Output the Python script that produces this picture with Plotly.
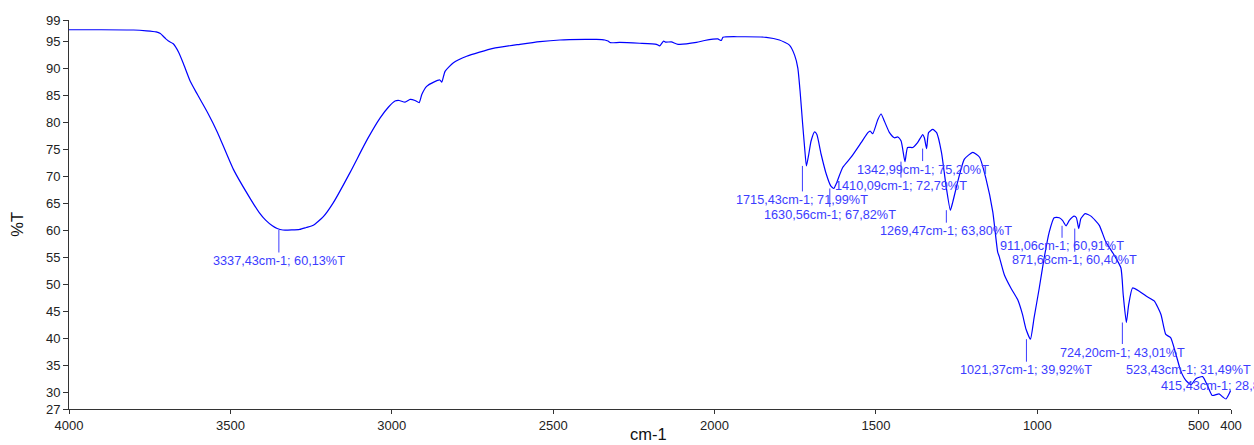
import plotly.graph_objects as go

# FTIR spectrum: wavenumber (cm-1) and transmittance (%T)
wavenumber = [
    4000, 3900, 3800, 3760, 3730, 3717, 3700, 3692, 3677, 3660, 3646, 3624, 3602,
    3570, 3540, 3491, 3438, 3410, 3390, 3370, 3355, 3337.43, 3310, 3285, 3265, 3243,
    3212, 3181, 3129, 3076, 3036, 3010, 2990, 2977, 2959, 2943, 2928, 2915, 2907,
    2892, 2870, 2851, 2845, 2835, 2809, 2768, 2686, 2603, 2541, 2479, 2400, 2366,
    2340, 2330, 2322, 2294, 2232, 2180, 2170, 2158, 2151, 2134, 2113, 2056, 2031,
    2005, 1990, 1979, 1974, 1922, 1840, 1799, 1768, 1752, 1742, 1735, 1727, 1721,
    1715.43, 1708, 1701, 1690, 1683, 1670, 1654, 1640, 1630.56, 1623, 1603, 1577,
    1546, 1525, 1518, 1510, 1494, 1484, 1474, 1458, 1443, 1432, 1422, 1410.09, 1402,
    1386, 1371, 1355, 1350, 1342.99, 1337, 1324, 1312, 1297, 1283, 1269.47, 1262,
    1247, 1226, 1200, 1179, 1159, 1138, 1123, 1118, 1102, 1082, 1061, 1046, 1035,
    1021.37, 1010, 994, 979, 963, 948, 932, 922, 911.06, 901, 886, 879, 871.68, 865,
    852, 834, 808, 788, 762, 741, 734, 724.20, 717, 705, 684, 663, 638, 617, 602, 587,
    571, 556, 540, 523.43, 509, 488, 473, 458, 437, 425, 415.43, 401,
]
transmittance = [
    97.2, 97.2, 97.15, 97.0, 96.8, 96.5, 95.5, 95.1, 94.6, 93.0, 91.0, 87.6, 85.2,
    81.8, 78.2, 71.4, 65.9, 63.3, 61.9, 60.9, 60.4, 60.13, 60.15, 60.25, 60.6, 61.0,
    62.6, 65.2, 70.8, 76.9, 80.9, 82.9, 84.0, 84.1, 83.8, 84.3, 84.1, 83.7, 85.2,
    86.7, 87.5, 87.9, 87.5, 89.5, 91.1, 92.3, 93.75, 94.5, 95.0, 95.3, 95.4, 95.4,
    95.3, 95.1, 94.8, 94.85, 94.7, 94.5, 94.2, 95.1, 94.9, 94.95, 94.5, 94.85, 95.2,
    95.45, 95.5, 95.2, 95.8, 95.9, 95.8, 95.3, 94.35, 92.5, 90.1, 85.8, 79.7, 75.4,
    71.99, 74.2, 76.6, 78.3, 77.8, 74.2, 70.5, 68.3, 67.82, 68.7, 71.7, 73.6,
    76.3, 78.15, 78.45, 77.95, 80.6, 81.6, 80.3, 78.15, 77.2, 77.35, 76.6, 72.79, 75.4,
    75.4, 76.3, 77.8, 77.2, 75.20, 78.15, 78.75, 78.15, 74.5, 68.4, 63.80, 65.3,
    69.0, 73.25, 74.5, 73.6, 69.6, 63.5, 56.1, 55.2, 51.8, 49.4, 47.25, 44.5, 41.75,
    39.92, 43.9, 49.4, 54.9, 59.8, 62.4, 62.4, 61.9, 60.91, 61.9, 62.7, 62.4, 60.40, 62.25,
    63.15, 62.7, 61.0, 57.95, 55.5, 53.1, 48.2, 43.01, 46.3, 49.4, 48.8, 47.9, 47.0, 44.5, 40.8, 40.2,
    37.2, 34.1, 32.3, 31.49, 32.6, 33.0, 31.35, 29.5, 29.8, 29.2, 28.85, 30.4,
]

# Labelled peaks
peak_wn = [3337.43, 1715.43, 1630.56, 1410.09, 1342.99, 1269.47, 911.06, 871.68,
           1021.37, 724.20, 523.43, 415.43]
peak_t = [60.13, 71.99, 67.82, 72.79, 75.20, 63.80, 60.91, 60.40,
          39.92, 43.01, 31.49, 28.85]
# vertical pixel offset from peak to label centre (positive = below)
label_offset = [31, 34, 27, 24.5, 21, 21, 20.5, 31.7, 31, 30, -15, -13]
label_has_line = [True] * 10 + [False, False]

x_ticks = [4000, 3500, 3000, 2500, 2000, 1500, 1000, 500, 400]
y_ticks = [27, 30, 35, 40, 45, 50, 55, 60, 65, 70, 75, 80, 85, 90, 95, 99]

FONT = "Liberation Sans, Arial, sans-serif"
LABEL_BLUE = "#3c3cff"


def fmt(v):
    return f"{v:.2f}".replace(".", ",")


fig = go.Figure()
fig.add_trace(go.Scatter(
    x=wavenumber, y=transmittance, mode="lines",
    line=dict(color="#0000ff", width=1.2, shape="spline", smoothing=0.5),
    hoverinfo="skip", showlegend=False,
))

annotations = []
for wn, t, off, has_line in zip(peak_wn, peak_t, label_offset, label_has_line):
    text = f"{fmt(wn)}cm-1; {fmt(t)}%T"
    if has_line:
        annotations.append(dict(
            x=wn, y=t, xref="x", yref="y", text=text,
            showarrow=True, arrowhead=0, arrowwidth=1, arrowcolor=LABEL_BLUE,
            ax=0, ay=off, standoff=0, xshift=-4,
            font=dict(family=FONT, size=12.7, color=LABEL_BLUE),
        ))
    else:
        annotations.append(dict(
            x=wn, y=t, xref="x", yref="y", text=text, showarrow=False,
            xshift=-3, yshift=-off,
            font=dict(family=FONT, size=12.7, color=LABEL_BLUE),
        ))

# axis titles
annotations.append(dict(
    text="cm-1", xref="paper", yref="paper", x=0.499, y=-0.063,
    xanchor="center", yanchor="middle", showarrow=False,
    font=dict(family=FONT, size=16.5, color="#111"),
))
annotations.append(dict(
    text="%T", xref="paper", yref="paper", x=-0.0444, y=0.475,
    xanchor="center", yanchor="middle", showarrow=False, textangle=-90,
    font=dict(family=FONT, size=16.5, color="#111"),
))

fig.update_layout(
    width=1254, height=445,
    margin=dict(l=69, r=21, t=20, b=33),
    paper_bgcolor="white", plot_bgcolor="white",
    font=dict(family=FONT, size=13, color="#222"),
    annotations=annotations,
    xaxis=dict(
        range=[4000, 400], tickvals=x_ticks, ticktext=[str(v) for v in x_ticks],
        showgrid=False, zeroline=False, showline=True, linecolor="#333",
        linewidth=1, ticks="outside", ticklen=4, tickcolor="#333",
        tickfont=dict(family=FONT, size=13, color="#222"),
    ),
    yaxis=dict(
        range=[27, 99], tickvals=y_ticks, ticktext=[str(v) for v in y_ticks],
        showgrid=False, zeroline=False, showline=True, linecolor="#333",
        linewidth=1, ticks="outside", ticklen=5, tickcolor="#333",
        tickfont=dict(family=FONT, size=13, color="#222"),
    ),
)

fig.write_html("out.html")
